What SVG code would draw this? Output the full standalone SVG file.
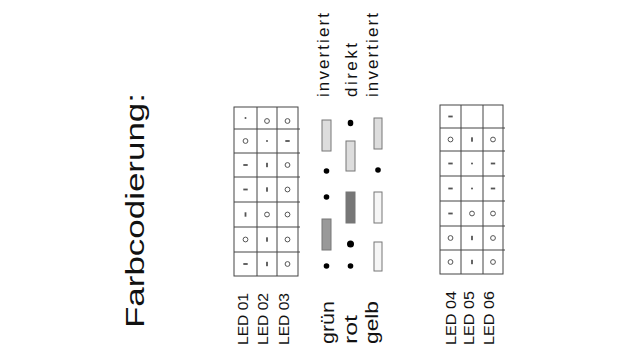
<svg xmlns="http://www.w3.org/2000/svg" width="628" height="360" viewBox="0 0 628 360">
<style>
text{font-family:"Liberation Sans",Arial,sans-serif;fill:#111}
.g{fill:#fff;stroke:#444;stroke-width:1}
.ln{stroke:#444;stroke-width:1;fill:none}
.o{fill:none;stroke:#555;stroke-width:1}
.d{fill:#555}
.bar{stroke:#777;stroke-width:1}
.dot{fill:#000}
</style>
<defs>
<circle id="o" r="2.4" class="o"/>
<circle id="p" r="1" class="d"/>
<rect id="h" x="-2.2" y="-0.9" width="4.4" height="1.8" class="d"/>
<rect id="v" x="-0.9" y="-2.2" width="1.8" height="4.4" class="d"/>
</defs>
<rect width="628" height="360" fill="#fff"/>

<g id="title">
<text transform="translate(144,328) rotate(-90)" font-size="26" textLength="235" lengthAdjust="spacingAndGlyphs">Farbcodierung:</text>
</g>

<g id="grid-left">
<rect class="g" x="234" y="107" width="64" height="169"/>
<path class="ln" d="M257,107V276M277,107V276M234,129H300M234,153H300M234,177H300M234,202H300M234,227H300M234,252H300"/>
<use href="#p" x="245.5" y="118"/><use href="#o" x="267" y="121"/><use href="#o" x="287.5" y="121"/>
<use href="#o" x="245.5" y="141"/><use href="#p" x="267" y="141"/><use href="#h" x="287.5" y="141"/>
<use href="#h" x="245.5" y="165"/><use href="#v" x="267" y="165"/><use href="#o" x="287.5" y="165"/>
<use href="#h" x="245.5" y="189.5"/><use href="#v" x="267" y="189.5"/><use href="#o" x="287.5" y="189.5"/>
<use href="#v" x="245.5" y="214.5"/><use href="#o" x="267" y="214.5"/><use href="#o" x="287.5" y="214.5"/>
<use href="#o" x="245.5" y="239.5"/><use href="#v" x="267" y="239.5"/><use href="#o" x="287.5" y="239.5"/>
<use href="#h" x="245.5" y="264"/><use href="#v" x="267" y="264"/><use href="#o" x="287.5" y="264"/>
</g>

<g id="grid-right">
<rect class="g" x="440" y="105" width="63" height="169"/>
<path class="ln" d="M461,105V274M483,105V274M440,128H505M440,151H505M440,176H505M440,201H505M440,226H505M440,250H505"/>
<use href="#h" x="450.5" y="116.5"/>
<use href="#o" x="450.5" y="139.5"/><use href="#v" x="472" y="139.5"/><use href="#o" x="493" y="139.5"/>
<use href="#h" x="450.5" y="163.5"/><use href="#p" x="472" y="163.5"/><use href="#h" x="493" y="163.5"/>
<use href="#h" x="450.5" y="188.5"/><use href="#p" x="472" y="188.5"/><use href="#h" x="493" y="188.5"/>
<use href="#h" x="450.5" y="213.5"/><use href="#o" x="472" y="213.5"/><use href="#o" x="493" y="213.5"/>
<use href="#o" x="450.5" y="238"/><use href="#v" x="472" y="238"/><use href="#o" x="493" y="238"/>
<use href="#o" x="450.5" y="262"/><use href="#v" x="472" y="262"/><use href="#o" x="493" y="262"/>
</g>

<g id="col-gruen">
<text transform="translate(329,97) rotate(-90)" font-size="17" textLength="84" lengthAdjust="spacing">invertiert</text>
<rect class="bar" x="322" y="120" width="9" height="31" fill="#ddd"/>
<circle class="dot" cx="326.5" cy="171" r="2.8"/>
<circle class="dot" cx="326.5" cy="197" r="2.8"/>
<rect class="bar" x="322" y="219" width="9" height="31" fill="#999"/>
<circle class="dot" cx="326.5" cy="266" r="2.8"/>
<text transform="translate(334,344) rotate(-90)" font-size="18" textLength="43" lengthAdjust="spacingAndGlyphs">grün</text>
</g>

<g id="col-rot">
<text transform="translate(357,97) rotate(-90)" font-size="17" textLength="54" lengthAdjust="spacing">direkt</text>
<ellipse class="dot" cx="350.5" cy="123" rx="2.8" ry="3.3"/>
<rect class="bar" x="346" y="141" width="9" height="30" fill="#ddd"/>
<rect class="bar" x="346" y="192" width="9" height="31" fill="#777"/>
<circle class="dot" cx="350.5" cy="244" r="3.5"/>
<circle class="dot" cx="350.5" cy="266" r="2.8"/>
<text transform="translate(357,344) rotate(-90)" font-size="18" textLength="29" lengthAdjust="spacingAndGlyphs">rot</text>
</g>

<g id="col-gelb">
<text transform="translate(378,97) rotate(-90)" font-size="17" textLength="84" lengthAdjust="spacing">invertiert</text>
<rect class="bar" x="374" y="118" width="8" height="31" fill="#ddd"/>
<circle class="dot" cx="378" cy="170" r="2.8"/>
<rect class="bar" x="374" y="192" width="8" height="31" fill="#f6f6f6"/>
<rect class="bar" x="374" y="242" width="8" height="29" fill="#f6f6f6"/>
<text transform="translate(378,344) rotate(-90)" font-size="18" textLength="43" lengthAdjust="spacingAndGlyphs">gelb</text>
</g>

<g id="labels-left">
<text transform="translate(248,345) rotate(-90)" font-size="14" textLength="52" lengthAdjust="spacingAndGlyphs">LED 01</text>
<text transform="translate(268,345) rotate(-90)" font-size="14" textLength="52" lengthAdjust="spacingAndGlyphs">LED 02</text>
<text transform="translate(289,345) rotate(-90)" font-size="14" textLength="52" lengthAdjust="spacingAndGlyphs">LED 03</text>
</g>
<g id="labels-right">
<text transform="translate(456,345) rotate(-90)" font-size="14" textLength="54" lengthAdjust="spacingAndGlyphs">LED 04</text>
<text transform="translate(474,345) rotate(-90)" font-size="14" textLength="54" lengthAdjust="spacingAndGlyphs">LED 05</text>
<text transform="translate(494,345) rotate(-90)" font-size="14" textLength="54" lengthAdjust="spacingAndGlyphs">LED 06</text>
</g>
</svg>
